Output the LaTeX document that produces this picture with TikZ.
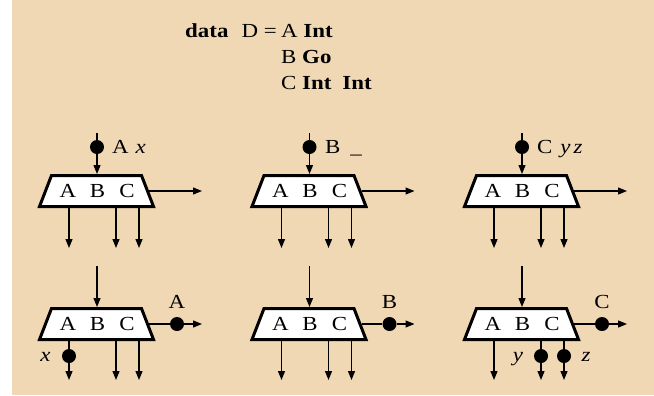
\documentclass[tikz,border=0pt]{standalone}
\usepackage{fontspec}
\setmainfont{Liberation Serif}[FakeStretch=1.15]
\usetikzlibrary{arrows.meta}
\definecolor{bg}{RGB}{240,216,180}
\begin{document}
\begin{tikzpicture}[x=1bp,y=-1bp,
  frame/.style={rectangle, minimum width=117bp, minimum height=34bp, inner sep=0pt, outer sep=0pt},
  trapline/.style={draw=black, fill=white, line width=3bp},
  lbl/.style={inner sep=0pt, font=\fontsize{20}{24}\selectfont},
  head/.style={inner sep=0pt, anchor=base west, font=\fontsize{20}{24}\selectfont},
  dot/.style={circle, fill=black, minimum size=14bp, inner sep=0pt},
  wire/.style={line width=1.2bp},
  arr/.style={line width=1.2bp, -{Triangle[length=9bp,width=7bp]}}]
\useasboundingbox (0,0) rectangle (654,395);
\fill[bg] (12,0) rectangle (654,395);
% header
\node[head] (hd) at (185,37) {\textbf{data}};
\node[head, anchor=base east] (hd2) at (277,37) {D =};
\node[head] (h1) at (281,37) {A \textbf{Int}};
\node[head] (h2) at (281,63) {B \textbf{Go}};
\node[head] (h3) at (281,89) {C \textbf{Int}\hspace{11bp}\textbf{Int}};
% panels
\foreach \i/\dx in {1/0,2/212.5,3/425}{
  % top row
  \node[frame] (T\i) at (96.5+\dx,191) {};
  \draw[trapline] ([xshift=1.5bp,yshift=1.5bp]T\i.south west) -- ([xshift=-1.5bp,yshift=1.5bp]T\i.south east)
     -- ([xshift=-13.5bp,yshift=-1.5bp]T\i.north east) -- ([xshift=13.5bp,yshift=-1.5bp]T\i.north west) -- cycle;
  \node[lbl] (TA\i) at (68+\dx,191) {A};
  \node[lbl] (TB\i) at (97.5+\dx,191) {B};
  \node[lbl] (TC\i) at (127+\dx,191) {C};
  \coordinate (Tin\i) at (97+\dx,133);
  \node[dot] (Td\i) at (97+\dx,147) {};
  \draw[wire] (Tin\i) -- (Td\i);
  \draw[arr] (Td\i) -- (Td\i |- T\i.north);
  \coordinate (Tr\i) at (202+\dx,191);
  \draw[arr] ([xshift=-6bp]T\i.east) -- (Tr\i);
  \foreach \k/\ox in {1/69,2/116,3/139}{
    \coordinate (To\i\k) at (\ox+\dx,248);
    \draw[arr] (T\i.south -| To\i\k) -- (To\i\k);
  }
  % bottom row
  \node[frame] (B\i) at (96.5+\dx,324) {};
  \draw[trapline] ([xshift=1.5bp,yshift=1.5bp]B\i.south west) -- ([xshift=-1.5bp,yshift=1.5bp]B\i.south east)
     -- ([xshift=-13.5bp,yshift=-1.5bp]B\i.north east) -- ([xshift=13.5bp,yshift=-1.5bp]B\i.north west) -- cycle;
  \node[lbl] (BA\i) at (68+\dx,324) {A};
  \node[lbl] (BB\i) at (97.5+\dx,324) {B};
  \node[lbl] (BC\i) at (127+\dx,324) {C};
  \coordinate (Bin\i) at (97+\dx,266);
  \draw[arr] (Bin\i) -- (Bin\i |- B\i.north);
  \node[dot] (Bd\i) at (177+\dx,324) {};
  \coordinate (Br\i) at (202+\dx,324);
  \draw[wire] ([xshift=-6bp]B\i.east) -- (Bd\i);
  \draw[arr] (Bd\i) -- (Br\i);
}
% top labels
\node[lbl, anchor=base west] (TL1) at (112,153) {A\hspace{7bp}\textit{x}};
\node[lbl, anchor=base west] (TL2) at (325,153) {B\hspace{10bp}\_};
\node[lbl, anchor=base west] (TL3) at (537,153) {C\hspace{8bp}\textit{y}\hspace{3bp}\textit{z}};
% bottom right labels
\node[lbl, anchor=base] (BL1) at (177,308) {A};
\node[lbl, anchor=base] (BL2) at (389.5,308) {B};
\node[lbl, anchor=base] (BL3) at (602,308) {C};
% bottom down arrows
% panel 1
\node[dot] (Bx1) at (69,356) {};
\coordinate (Bo11) at (69,380);
\draw[wire] (B1.south -| Bx1) -- (Bx1);
\draw[arr] (Bx1) -- (Bo11);
\node[lbl, anchor=base] (xl) at (45.5,361) {\textit{x}};
\coordinate (Bo12) at (116,380);
\coordinate (Bo13) at (139,380);
\draw[arr] (B1.south -| Bo12) -- (Bo12);
\draw[arr] (B1.south -| Bo13) -- (Bo13);
% panel 2
\coordinate (Bo21) at (281.5,380);
\coordinate (Bo22) at (328.5,380);
\coordinate (Bo23) at (351.5,380);
\draw[arr] (B2.south -| Bo21) -- (Bo21);
\draw[arr] (B2.south -| Bo22) -- (Bo22);
\draw[arr] (B2.south -| Bo23) -- (Bo23);
% panel 3
\coordinate (Bo31) at (494,380);
\draw[arr] (B3.south -| Bo31) -- (Bo31);
\node[dot] (By3) at (541,356) {};
\node[dot] (Bz3) at (564,356) {};
\coordinate (Bo32) at (541,380);
\coordinate (Bo33) at (564,380);
\draw[wire] (B3.south -| By3) -- (By3);
\draw[arr] (By3) -- (Bo32);
\draw[wire] (B3.south -| Bz3) -- (Bz3);
\draw[arr] (Bz3) -- (Bo33);
\node[lbl, anchor=base] (yl) at (518,361) {\textit{y}};
\node[lbl, anchor=base] (zl) at (586,361) {\textit{z}};
\end{tikzpicture}
\end{document}
